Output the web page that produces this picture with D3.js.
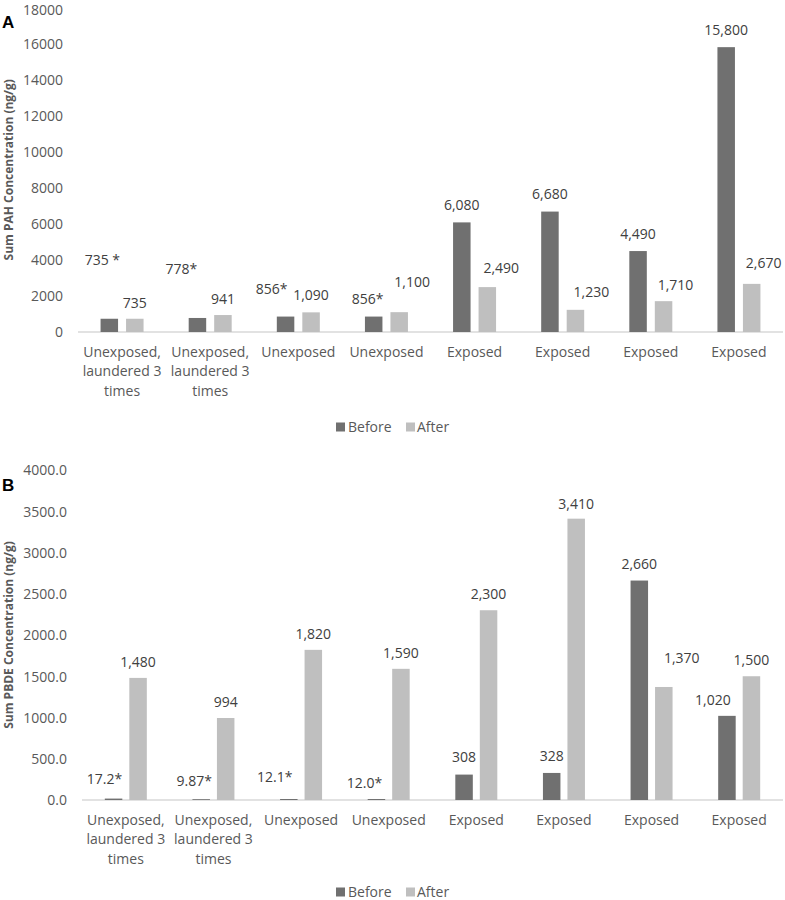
<!DOCTYPE html>
<html>
<head>
<meta charset="utf-8">
<script src="https://cdn.jsdelivr.net/npm/d3@7"></script>
<style>
  html, body { margin: 0; padding: 0; background: #fff; }
  svg { display: block; }
  text { font-family: "Open Sans", "DejaVu Sans", sans-serif; }
</style>
</head>
<body>
<svg id="chart" width="785" height="900"></svg>
<script>
// ---------- data ----------
const categories = [
  "Unexposed,\nlaundered 3\ntimes",
  "Unexposed,\nlaundered 3\ntimes",
  "Unexposed",
  "Unexposed",
  "Exposed",
  "Exposed",
  "Exposed",
  "Exposed"
];
const seriesNames = ["Before", "After"];

const pahBefore = [735, 778, 856, 856, 6080, 6680, 4490, 15800];
const pahAfter  = [735, 941, 1090, 1100, 2490, 1230, 1710, 2670];
const pahBeforeLabels = ["735 *", "778*", "856*", "856*", "6,080", "6,680", "4,490", "15,800"];
const pahAfterLabels  = ["735", "941", "1,090", "1,100", "2,490", "1,230", "1,710", "2,670"];
const pahTicks = [0, 2000, 4000, 6000, 8000, 10000, 12000, 14000, 16000, 18000];

const pbdeBefore = [17.2, 9.87, 12.1, 12.0, 308, 328, 2660, 1020];
const pbdeAfter  = [1480, 994, 1820, 1590, 2300, 3410, 1370, 1500];
const pbdeBeforeLabels = ["17.2*", "9.87*", "12.1*", "12.0*", "308", "328", "2,660", "1,020"];
const pbdeAfterLabels  = ["1,480", "994", "1,820", "1,590", "2,300", "3,410", "1,370", "1,500"];
const pbdeTicks = [0, 500, 1000, 1500, 2000, 2500, 3000, 3500, 4000];

// label nudges (pixels, relative to bar centre / bar top) - manual placements in the original
const pahBeforeOff  = [[-7,-59],[-16,-49],[-14,-27],[-6,-17],[0,-17],[0,-17],[0,-17],[0,-17]];
const pahAfterOff   = [[0,-16],[0,-16],[0,-17],[13,-30],[14,-19],[16,-18],[12,-16],[12,-21]];
const pbdeBeforeOff = [[-9,-19],[-7,-18],[-14,-22],[-12,-16],[0,-17],[0,-17],[0,-16],[-14,-16]];
const pbdeAfterOff  = [[0,-16],[0,-16],[0,-16],[0,-16],[0,-16],[0,-15],[18,-29],[0,-16]];

// ---------- styles ----------
const colors = { Before: "#707070", After: "#bfbfbf" };
const tickColor = "#595959";
const labelColor = "#404040";
const axisLineColor = "#d9d9d9";
const fs = "14px";

const svg = d3.select("#chart");
svg.append("rect").attr("width", 785).attr("height", 900).attr("fill", "#fff");

function drawPanel(cfg) {
  const g = svg.append("g");
  const idx = d3.range(categories.length);

  const x = d3.scaleBand().domain(idx).range([cfg.x0, cfg.x1])
    .paddingInner(cfg.pad).paddingOuter(cfg.pad / 2);
  const x1 = d3.scaleBand().domain(seriesNames).range([0, x.bandwidth()])
    .paddingInner(cfg.innerPad);
  const y = d3.scaleLinear().domain(cfg.domain).range([cfg.yBase, cfg.yTop]);

  // y axis (labels only)
  const yAxis = d3.axisLeft(y).tickValues(cfg.ticks).tickFormat(cfg.tickFormat).tickSize(0).tickPadding(0);
  const ya = g.append("g").attr("transform", `translate(${cfg.tickX},0)`).call(yAxis);
  ya.select(".domain").remove();
  ya.selectAll("text").attr("fill", tickColor).style("font-size", fs)
    .style("font-family", '"Open Sans", sans-serif')
    .attr("dy", d => (y(d) < 10 ? (10 - y(d)) / 14 + 0.35 : 0.35) + "em");

  // baseline
  g.append("line").attr("x1", cfg.x0).attr("x2", cfg.x1)
    .attr("y1", y(0)).attr("y2", y(0)).attr("stroke", axisLineColor).attr("stroke-width", 1.3);

  // bars
  const series = [
    { name: "Before", vals: cfg.before, labels: cfg.beforeLabels, off: cfg.beforeOff },
    { name: "After", vals: cfg.after, labels: cfg.afterLabels, off: cfg.afterOff }
  ];
  series.forEach(s => {
    g.append("g").selectAll("rect").data(s.vals).join("rect")
      .attr("x", (d, i) => x(i) + x1(s.name))
      .attr("width", x1.bandwidth())
      .attr("y", d => y(d))
      .attr("height", d => y(0) - y(d))
      .attr("fill", colors[s.name]);
    g.append("g").selectAll("text").data(s.vals).join("text")
      .attr("x", (d, i) => x(i) + x1(s.name) + x1.bandwidth() / 2 + s.off[i][0])
      .attr("y", (d, i) => y(d) + s.off[i][1])
      .attr("dy", "0.35em")
      .attr("text-anchor", "middle")
      .attr("fill", labelColor)
      .style("font-size", fs)
      .text((d, i) => s.labels[i]);
  });

  // category labels
  const cat = g.append("g");
  idx.forEach(i => {
    const lines = categories[i].split("\n");
    const t = cat.append("text")
      .attr("text-anchor", "middle")
      .attr("fill", tickColor)
      .style("font-size", fs);
    lines.forEach((ln, k) => {
      t.append("tspan")
        .attr("x", x(i) + x.bandwidth() / 2)
        .attr("y", y(0) + 20 + k * 19.5)
        .attr("dy", "0.35em")
        .text(ln);
    });
  });

  // y-axis title
  g.append("text")
    .attr("transform", `translate(${cfg.titleX},${(cfg.yBase + cfg.yTop) / 2}) rotate(-90)`)
    .attr("text-anchor", "middle")
    .attr("dy", "0.35em")
    .attr("fill", tickColor)
    .style("font-size", "12px")
    .style("font-weight", "bold")
    .text(cfg.title);

  // panel letter
  g.append("text")
    .attr("x", 2).attr("y", cfg.letterY)
    .attr("fill", "#000")
    .style("font-family", '"Liberation Sans", Arial, sans-serif')
    .style("font-size", "17px")
    .style("font-weight", "bold")
    .text(cfg.letter);

  // legend
  const leg = g.append("g");
  const legItems = [
    { name: "Before", sx: 336, tx: 348 },
    { name: "After", sx: 406, tx: 417 }
  ];
  legItems.forEach(l => {
    leg.append("rect").attr("x", l.sx).attr("y", cfg.legendY - 4.5)
      .attr("width", 9).attr("height", 9).attr("fill", colors[l.name]);
    leg.append("text").attr("x", l.tx).attr("y", cfg.legendY).attr("dy", "0.35em")
      .attr("fill", tickColor).style("font-size", fs).text(l.name);
  });
}

drawPanel({
  x0: 78, x1: 783, pad: 1 - 43 / 88.125, innerPad: 8 / 25.5,
  domain: [0, 18000], yBase: 332, yTop: 7.5,
  ticks: pahTicks, tickFormat: d3.format("d"), tickX: 63,
  before: pahBefore, after: pahAfter,
  beforeLabels: pahBeforeLabels, afterLabels: pahAfterLabels,
  beforeOff: pahBeforeOff, afterOff: pahAfterOff,
  title: "Sum PAH Concentration (ng/g)", titleX: 9,
  letter: "A", letterY: 28, legendY: 427
});

drawPanel({
  x0: 82, x1: 783, pad: 1 - 42 / 87.625, innerPad: 7 / 24.5,
  domain: [0, 4000], yBase: 800, yTop: 470,
  ticks: pbdeTicks, tickFormat: d3.format(".1f"), tickX: 67,
  before: pbdeBefore, after: pbdeAfter,
  beforeLabels: pbdeBeforeLabels, afterLabels: pbdeAfterLabels,
  beforeOff: pbdeBeforeOff, afterOff: pbdeAfterOff,
  title: "Sum PBDE Concentration (ng/g)", titleX: 9,
  letter: "B", letterY: 491, legendY: 892
});
</script>
</body>
</html>
